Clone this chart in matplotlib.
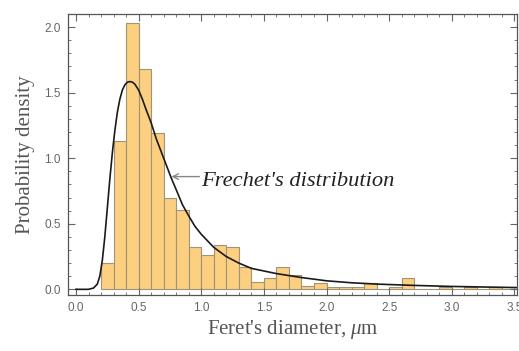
import matplotlib.pyplot as plt
from matplotlib.ticker import MultipleLocator

# histogram of Feret's diameter (bin width 0.1 um)
bin_left = [0.2, 0.3, 0.4, 0.5, 0.6, 0.7, 0.8, 0.9, 1.0, 1.1, 1.2, 1.3, 1.4, 1.5,
            1.6, 1.7, 1.8, 1.9, 2.0, 2.1, 2.2, 2.3, 2.4, 2.5, 2.6, 2.7, 2.8, 2.9,
            3.0, 3.1, 3.2, 3.3, 3.4]
density = [0.20, 1.13, 2.03, 1.68, 1.19, 0.695, 0.605, 0.32, 0.26, 0.34, 0.32, 0.17,
           0.055, 0.085, 0.17, 0.11, 0.025, 0.05, 0.019, 0.019, 0.019, 0.05, 0.0,
           0.019, 0.085, 0.0, 0.0, 0.019, 0.0, 0.019, 0.0, 0.019, 0.0]

# fitted Frechet curve
fit_x = [0.00, 0.10, 0.14, 0.17, 0.19, 0.21, 0.23, 0.25, 0.27, 0.29, 0.31, 0.33,
         0.35, 0.37, 0.39, 0.41, 0.43, 0.45, 0.47, 0.50, 0.53, 0.56, 0.60, 0.64,
         0.68, 0.72, 0.76, 0.80, 0.85, 0.90, 0.95, 1.00, 1.10, 1.20, 1.30, 1.40,
         1.50, 1.60, 1.80, 2.00, 2.20, 2.40, 2.70, 3.00, 3.30, 3.55]
fit_y = [0.00, 0.00, 0.01, 0.04, 0.10, 0.22, 0.40, 0.62, 0.84, 1.04, 1.21, 1.35,
         1.45, 1.52, 1.56, 1.58, 1.585, 1.58, 1.565, 1.52, 1.45, 1.37, 1.27, 1.15,
         1.05, 0.95, 0.85, 0.76, 0.645, 0.56, 0.48, 0.42, 0.32, 0.25, 0.20, 0.16,
         0.14, 0.12, 0.09, 0.065, 0.05, 0.04, 0.03, 0.022, 0.017, 0.013]

plt.rcParams['mathtext.fontset'] = 'custom'
plt.rcParams['mathtext.rm'] = 'Liberation Serif'
plt.rcParams['mathtext.it'] = 'Liberation Serif:italic'

fig = plt.figure(figsize=(5.19, 3.51), dpi=100)
ax = fig.add_axes([0.131, 0.16, 0.865, 0.80])

ax.bar(bin_left, density, width=0.1, align='edge', color='#fdcf80',
       edgecolor='#a09477', linewidth=0.8)
ax.plot(fit_x, fit_y, color='#1a1a1a', lw=1.2)

ax.annotate('', xy=(0.75, 0.86), xytext=(0.985, 0.86),
            arrowprops=dict(arrowstyle='->', color='#888888', lw=1.0,
                            shrinkA=0, shrinkB=1))
ax.text(0.995, 0.79, "Frechet's distribution", family='Liberation Serif',
        style='italic', fontsize=16.2, color='#222222', va='baseline')

ax.set_xlim(-0.064, 3.52)
ax.set_ylim(-0.042, 2.10)
ax.xaxis.set_major_locator(MultipleLocator(0.5))
ax.xaxis.set_minor_locator(MultipleLocator(0.1))
ax.yaxis.set_major_locator(MultipleLocator(0.5))
ax.yaxis.set_minor_locator(MultipleLocator(0.1))
ax.xaxis.set_major_formatter(plt.FormatStrFormatter('%.1f'))
ax.yaxis.set_major_formatter(plt.FormatStrFormatter('%.1f'))

ax.tick_params(which='both', direction='in', top=True, right=True,
               color='#666666', labelcolor='#666666', labelsize=8.5)
ax.tick_params(which='major', length=5, width=0.8, pad=5)
ax.tick_params(which='minor', length=2.5, width=0.6)
for lab in ax.get_xticklabels() + ax.get_yticklabels():
    lab.set_family('Liberation Sans')
for sp in ax.spines.values():
    sp.set_color('#555555')
    sp.set_linewidth(0.9)

ax.set_xlabel(r"Feret's diameter, $\mu$m", family='Liberation Serif',
              fontsize=15, color='#555555', labelpad=3)
ax.set_ylabel('Probability density', family='Liberation Serif',
              fontsize=15, color='#555555', labelpad=7)

fig.savefig('out.png', dpi=100)
